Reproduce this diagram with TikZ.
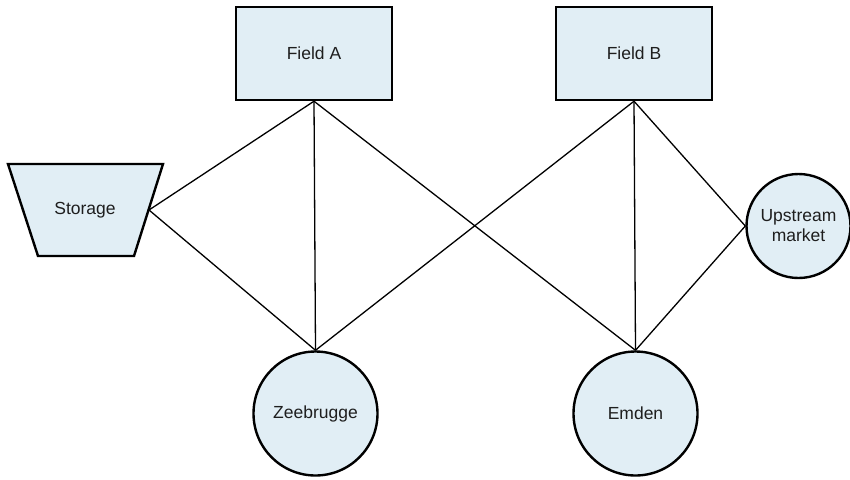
\documentclass[tikz,border=0pt]{standalone}
\usepackage{fontspec}
\setmainfont{Liberation Sans}
\usetikzlibrary{backgrounds}
\definecolor{nodefill}{RGB}{225,238,245}
\definecolor{txt}{RGB}{30,30,30}
\begin{document}
\begin{tikzpicture}[x=1pt,y=-1pt,
  lbl/.style={font=\fontsize{17.5}{20}\selectfont,text=txt,align=center},
  box/.style={lbl,draw=black,fill=nodefill,line width=2.4pt,inner sep=0pt},
  fieldbox/.style={box,rectangle,minimum width=156pt,minimum height=93pt},
  hub/.style={box,circle,minimum size=124pt},
  mkt/.style={box,circle,minimum size=104pt},
  link/.style={draw=black,line width=1.3pt}]
\useasboundingbox (0,0) rectangle (850,479);
\node[fieldbox] (fa) at (314,53.5) {Field A};
\node[fieldbox] (fb) at (634,53.5) {Field B};
\node[hub] (zb) at (315.5,413.5) {Zeebrugge};
\node[hub] (em) at (635.5,413.5) {Emden};
\node[mkt] (up) at (798.5,226) {Upstream\\market};
% storage trapezoid
\draw[draw=black,fill=nodefill,line width=2.4pt,line join=miter]
  (8,164) -- (163,164) -- (134,256) -- (38,256) -- cycle;
\node[lbl] (st) at (85,210) {Storage};
\coordinate (stE) at (149,210);
\begin{scope}[on background layer]
\draw[link] (fa.south) -- (stE);
\draw[link] (stE) -- (zb.north);
\draw[link] (fa.south) -- (zb.north);
\draw[link] (fa.south) -- (em.north);
\draw[link] (fb.south) -- (zb.north);
\draw[link] (fb.south) -- (em.north);
\draw[link] (fb.south) -- (up.west);
\draw[link] (up.west) -- (em.north);
\end{scope}
\end{tikzpicture}
\end{document}
